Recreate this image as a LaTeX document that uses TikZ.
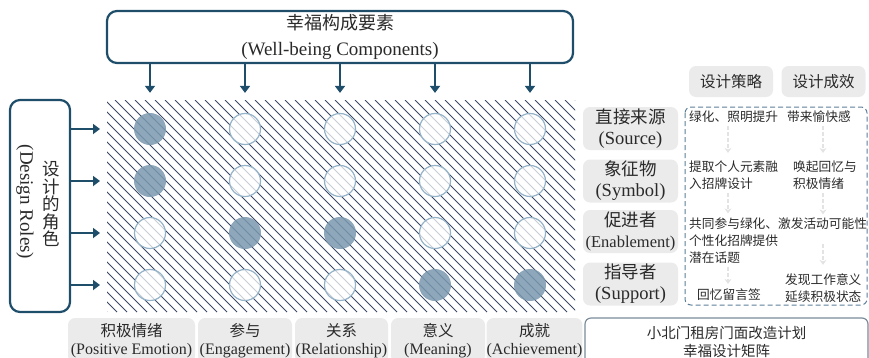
\documentclass[tikz,border=0pt]{standalone}
\usepackage{fontspec}
\setmainfont{Liberation Serif}
\newfontfamily\cjk{Noto Sans CJK SC}
\usetikzlibrary{positioning, arrows.meta}

\definecolor{roleblue}{HTML}{1F4E6B}
\definecolor{hatchgray}{HTML}{3C4868}
\definecolor{dotfill}{HTML}{7A98AE}
\definecolor{dotline}{HTML}{94B2C8}
\definecolor{labelgray}{HTML}{EBEBEB}
\definecolor{dashblue}{HTML}{5E7F9A}
\definecolor{framegray}{HTML}{7A8C99}
\definecolor{inkgray}{HTML}{2A2A2A}

\begin{document}
\begin{tikzpicture}[x=1pt, y=-1pt, text=inkgray,
	bigbox/.style={draw=roleblue, line width=2.2pt, rounded corners=10pt, fill=white, align=center},
	thickarrow/.style={draw=roleblue, line width=2pt, -{Triangle[length=7pt, width=10pt]}},
	fulldot/.style={circle, minimum size=32pt, inner sep=0pt, fill=dotfill, fill opacity=0.85},
	emptydot/.style={circle, minimum size=31pt, inner sep=0pt, draw=dotline, line width=1.2pt, fill=white, fill opacity=0.72},
	graylabel/.style={fill=labelgray, rounded corners=7pt, inner sep=0pt, align=center},
	faint/.style={draw=gray!22, line width=1.6pt, dash pattern=on 4pt off 2pt, -{Stealth[length=5pt, width=7pt]}},
	note/.style={inner sep=0pt, align=left, anchor=west, font=\cjk\fontsize{12.7}{17}\selectfont}]
	\useasboundingbox (0, 0) rectangle (869, 357);
	
	% Hatched matrix area
	\node[minimum width=468pt, minimum height=212pt, inner sep=0pt] (field) at (341, 206) {};
	\begin{scope}
		\clip (107, 100) rectangle (575, 312);
		\foreach \x in {-105, -95, ..., 575}
			\draw[hatchgray, line width=0.8pt] (\x, 100) -- ++(212, 212);
	\end{scope}
	
	% Dots of the matrix
	\foreach \r/\c in {1/2, 1/3, 1/4, 1/5, 2/2, 2/3, 2/4, 2/5, 3/1, 3/4, 3/5, 4/1, 4/2, 4/3}
		\node[emptydot] (d\r\c) at ({55+95*\c}, {77+52*\r}) {};
	\foreach \r/\c in {1/1, 2/1, 3/2, 3/3, 4/4, 4/5}
		\node[fulldot] (d\r\c) at ({55+95*\c}, {77+52*\r}) {};
	
	% Well-being components
	\node[bigbox, minimum width=466pt, minimum height=52pt, font=\fontsize{19}{26}\selectfont] (comp) at (340, 37)
		{{\cjk\fontsize{18}{26}\selectfont 幸福构成要素}\\(Well-being Components)};
	\foreach \c in {1, ..., 5}
		\draw[thickarrow] (comp.south -| d1\c) -- ([yshift=20pt]d1\c.north);
	
	% Design roles
	\node[bigbox, minimum width=60pt, minimum height=212pt] (roles) at (40, 206) {};
	\node[align=center, inner sep=0pt, font=\cjk\fontsize{17.5}{17.5}\selectfont] (rolescn) at (51, 204) {设\\计\\的\\角\\色};
	\node[rotate=-90, inner sep=0pt, font=\fontsize{19}{19}\selectfont] (rolesen) at (25, 202) {(Design Roles)};
	\coordinate (fieldin) at (100, 0);
	\foreach \r in {1, ..., 4}
		\draw[thickarrow] (roles.east |- d\r1) -- (fieldin |- d\r1);
	
	% Component labels
	\foreach \x/\w/\cn/\en [count=\i] in {131.5/127/积极情绪/Positive Emotion, 245/94/参与/Engagement,
		341.5/93/关系/Relationship, 438/94/意义/Meaning, 534.5/95/成就/Achievement}
		\node[graylabel, minimum width=\w pt, minimum height=45pt, font=\fontsize{16}{17.5}\selectfont] (comp\i) at (\x, 340.5)
			{{\cjk\fontsize{15.5}{17.5}\selectfont \cn}\\(\en)};
	
	% Title
	\node[draw=framegray, line width=1.2pt, rounded corners=6pt, minimum width=283pt, minimum height=47pt,
		align=center, font=\cjk\fontsize{14.5}{18}\selectfont] (title) at (726.5, 341.5)
		{小北门租房门面改造计划\\幸福设计矩阵};
	
	% Role labels
	\foreach \y/\cn/\en/\s/\n in {128.5/直接来源/Source/18.5/src, 181/象征物/Symbol/18.5/sym,
		231.5/促进者/Enablement/16.5/enb, 284/指导者/Support/18.5/sup}
		\node[graylabel, minimum width=95pt, minimum height=43pt, font=\fontsize{\s}{21}\selectfont] (\n) at (630.5, \y)
			{{\cjk\fontsize{17.5}{21}\selectfont \cn}\\(\en)};
	
	% Headers
	\node[graylabel, minimum width=84pt, minimum height=31pt, font=\cjk\fontsize{15.5}{18}\selectfont] (strat) at (731, 81.5) {设计策略};
	\node[graylabel, minimum width=84pt, minimum height=31pt, font=\cjk\fontsize{15.5}{18}\selectfont] (effect) at (823.5, 81.5) {设计成效};
	
	% Strategies and effects
	\draw[dashblue, line width=1pt, dash pattern=on 5pt off 3pt, rounded corners=6pt] (685, 107) rectangle (867, 305);
	\node[note] (s1) at (689, 117) {绿化、照明提升};
	\node[note] (e1) at (787, 117) {带来愉快感};
	\node[note] (s2) at (689, 175.5) {提取个人元素融\\入招牌设计};
	\node[note] (e2) at (793, 175.5) {唤起回忆与\\积极情绪};
	\node[note] (s3) at (689, 240.5) {共同参与绿化、激发活动可能性\\个性化招牌提供\\潜在话题};
	\node[note] (s4) at (697, 295) {回忆留言签};
	\node[note] (e4) at (785, 288.5) {发现工作意义\\延续积极状态};
	
	\coordinate (colL) at (728, 0);
	\coordinate (colR) at (823, 0);
	\coordinate (r3) at (823, 244);
	\draw[faint, shorten <=3pt, shorten >=8pt] (s1.south -| colL) -- (s2.north -| colL);
	\draw[faint, shorten <=3pt, shorten >=4pt] (s2.south -| colL) -- (s3.north -| colL);
	\draw[faint, shorten <=3pt, shorten >=5pt] (s3.south -| colL) -- (s4.north -| colL);
	\draw[faint, shorten <=3pt, shorten >=8pt] (e1.south -| colR) -- (e2.north -| colR);
	\draw[faint, shorten <=3pt, shorten >=3pt] (e2.south -| colR) -- (s3.north -| colR);
	\draw[faint, shorten >=9pt] (r3) -- (e4.north -| r3);
\end{tikzpicture}
\end{document}
